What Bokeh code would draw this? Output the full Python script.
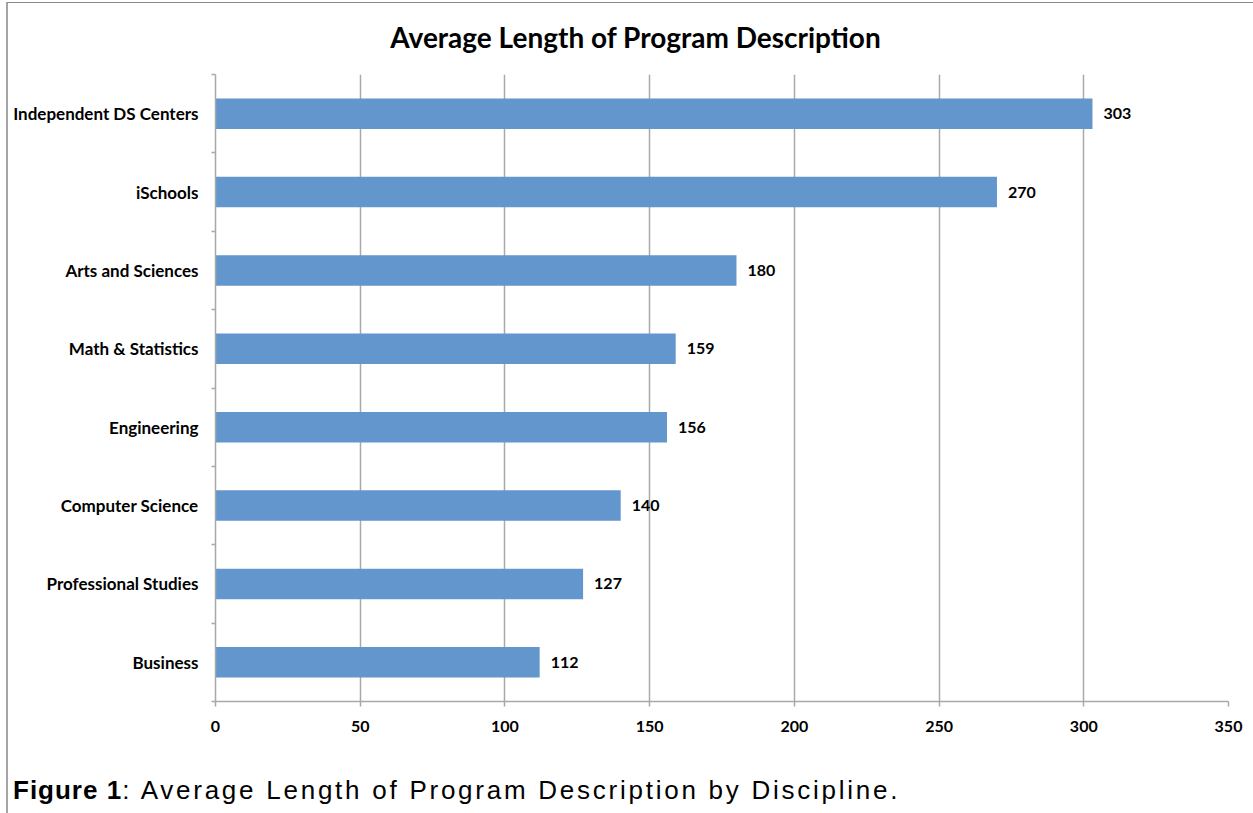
from bokeh.plotting import figure
from bokeh.layouts import column
from bokeh.models import Div, FixedTicker, Range1d, ColumnDataSource
from bokeh.core.properties import value
from bokeh.embed import file_html
from bokeh.resources import INLINE

title_text = "Average Length of Program Description"
categories = ["Independent DS Centers", "iSchools", "Arts and Sciences", "Math & Statistics",
              "Engineering", "Computer Science", "Professional Studies", "Business"]
values = [303, 270, 180, 159, 156, 140, 127, 112]
x_ticks = [0, 50, 100, 150, 200, 250, 300, 350]
caption_bold = "Figure 1"
caption_rest = ": Average Length of Program Description by Discipline."

n = len(categories)
ypos = [i + 0.5 for i in range(n)]

src = ColumnDataSource(dict(y=ypos, v=values, lab=[str(v) for v in values], cat=categories))

FONT = "Lato"
GRAY = "#a9a9a9"

title_div = Div(
    text=f'<div style="width:1245px;text-align:center;font-family:Lato;font-weight:bold;'
         f'font-size:28px;color:#000;padding-top:9px;white-space:nowrap">{title_text}</div>',
    width=1245, height=55)

p = figure(width=1245, height=690, output_backend="svg", toolbar_location=None,
           x_range=Range1d(0, 350), y_range=Range1d(n, 0),
           min_border_left=207, min_border_right=25, min_border_top=6, min_border_bottom=57)
p.outline_line_color = None
p.background_fill_color = "white"
p.border_fill_color = "white"

p.hbar(y="y", right="v", left=0, height=0.39, source=src, fill_color="#6396cd", line_color=None)
p.text(x="v", y="y", text="lab", source=src, x_offset=11, text_baseline="middle",
       text_align="left", text_font=value(FONT), text_font_style="bold",
       text_font_size="16px", text_color="#000")

# x axis
p.xaxis.ticker = FixedTicker(ticks=x_ticks)
p.xaxis.major_tick_out = 5
p.xaxis.major_tick_in = 0
p.xaxis.minor_tick_out = 0
p.xaxis.minor_tick_in = 0
p.xaxis.axis_line_color = GRAY
p.xaxis.axis_line_width = 1.5
p.xaxis.major_tick_line_color = GRAY
p.xaxis.major_tick_line_width = 1.5
p.xaxis.major_label_standoff = 14
p.xaxis.major_label_text_font_size = "16px"

# y axis
p.yaxis.ticker = FixedTicker(ticks=ypos, minor_ticks=list(range(n + 1)))
p.yaxis.major_label_overrides = {y: c for y, c in zip(ypos, categories)}
p.yaxis.major_tick_out = 0
p.yaxis.major_tick_in = 0
p.yaxis.minor_tick_out = 4
p.yaxis.minor_tick_in = 0
p.yaxis.minor_tick_line_color = GRAY
p.yaxis.minor_tick_line_width = 1.5
p.yaxis.axis_line_color = GRAY
p.yaxis.axis_line_width = 1.5
p.yaxis.major_label_standoff = 13
p.yaxis.major_label_text_font_size = "17px"

for ax in (p.xaxis, p.yaxis):
    ax.major_label_text_font = FONT
    ax.major_label_text_font_style = "bold"
    ax.major_label_text_color = "#000"

p.xgrid.ticker = FixedTicker(ticks=x_ticks[1:])
p.xgrid.grid_line_color = GRAY
p.xgrid.grid_line_width = 1.5
p.ygrid.grid_line_color = None

caption_div = Div(
    text=f'<div style="font-family:\'Liberation Sans\',Arial;font-size:26px;letter-spacing:2.75px;'
         f'color:#000;padding-left:0px;padding-top:9px;white-space:nowrap">'
         f'<b style="letter-spacing:1px">{caption_bold}</b>{caption_rest}</div>',
    width=1245, height=55)

layout = column(title_div, p, caption_div, spacing=0, margin=(2, 0, 0, 6),
                styles={"border-top": "1px solid #8a8a8a", "border-left": "2px solid #a5a5a5"})

open("out.html", "w").write(file_html(layout, INLINE))
